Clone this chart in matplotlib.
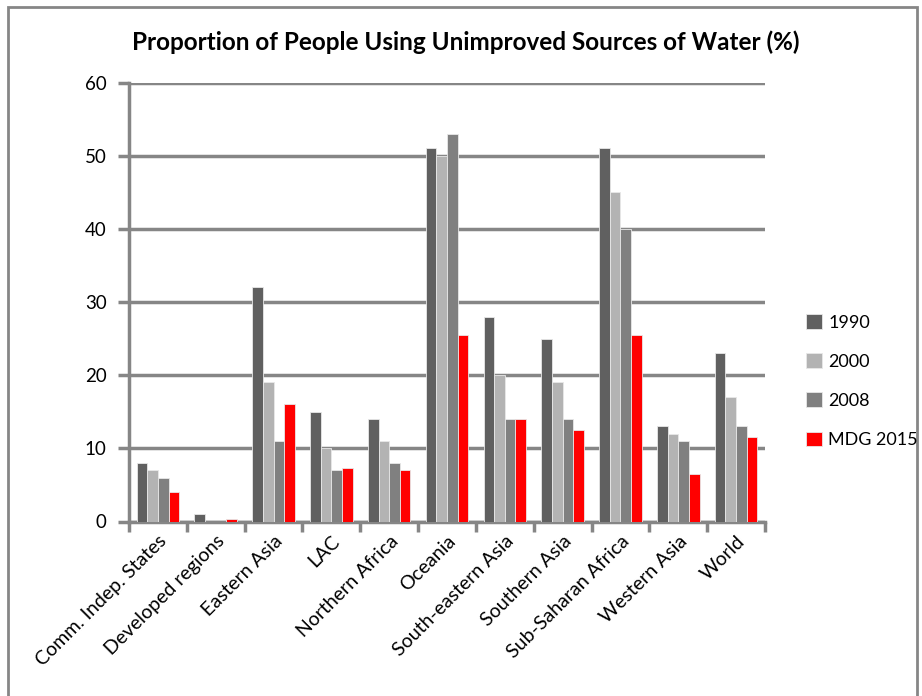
import matplotlib
matplotlib.use("Agg")
import matplotlib.pyplot as plt
import numpy as np
from matplotlib.patches import Rectangle

regions = ["Comm. Indep. States", "Developed regions", "Eastern Asia", "LAC",
           "Northern Africa", "Oceania", "South-eastern Asia", "Southern Asia",
           "Sub-Saharan Africa", "Western Asia", "World"]
series_names = ["1990", "2000", "2008", "MDG 2015"]
v1990 = [8, 1, 32, 15, 14, 51, 28, 25, 51, 13, 23]
v2000 = [7, 0, 19, 10, 11, 50, 20, 19, 45, 12, 17]
v2008 = [6, 0, 11, 7, 8, 53, 14, 14, 40, 11, 13]
mdg2015 = [4, 0.3, 16, 7.3, 7, 25.5, 14, 12.5, 25.5, 6.5, 11.5]
colors = ["#606060", "#b3b3b3", "#808080", "#ff0000"]

plt.rcParams['font.family'] = ['Lato', 'DejaVu Sans']

W, H = 922, 696
fig = plt.figure(figsize=(W / 100, H / 100), dpi=100)
ax = fig.add_axes([129 / W, 1 - 521.5 / H, (765 - 129) / W, (521.5 - 82.5) / H])

x = np.arange(len(regions))
bw = 0.184
data = [v1990, v2000, v2008, mdg2015]
for i, (vals, c, name) in enumerate(zip(data, colors, series_names)):
    ax.bar(x + (i - 1.5) * bw, vals, width=bw, color=c, edgecolor="#e8e8e8",
           linewidth=0.6, label=name, zorder=3)

ax.set_xlim(-0.5, len(regions) - 0.5)
ax.set_ylim(0, 60)
ax.set_yticks(np.arange(0, 61, 10))
ax.yaxis.grid(True, color="#868686", linewidth=2.5, zorder=0)
ax.set_axisbelow(True)
for s in ["top", "right"]:
    ax.spines[s].set_visible(False)
for s in ["left", "bottom"]:
    ax.spines[s].set_color("#868686")
    ax.spines[s].set_linewidth(2.5)

# category boundaries carry the tick marks; names sit under the centres
ax.set_xticks(np.arange(-0.5, len(regions), 1.0), minor=False)
ax.set_xticklabels([])
ax.set_xticks(x, minor=True)
ax.set_xticklabels(regions, minor=True, rotation=45, ha="right", rotation_mode="anchor",
                   fontsize=14)
ax.tick_params(axis="x", which="minor", length=0, pad=8)
ax.tick_params(axis="x", which="major", length=7, width=2.5, color="#868686")
ax.tick_params(axis="y", length=8, width=2.5, color="#868686", labelsize=13.5, pad=8)

fig.text(466 / W, 1 - 42 / H, "Proportion of People Using Unimproved Sources of Water (%)",
         ha="center", va="center", fontsize=17.5, fontweight="bold")

fig.legend(loc="upper left", bbox_to_anchor=(792 / W, 1 - 300 / H), frameon=False,
           fontsize=13, handlelength=0.85, handleheight=0.85, handletextpad=0.35,
           labelspacing=1.25, borderpad=0.3)

fig.patches.append(Rectangle((8 / W, -10 / H), 909 / W, (H + 10 - 7) / H,
                             transform=fig.transFigure, fill=False,
                             edgecolor="#868686", linewidth=2.0, clip_on=False))

fig.savefig("out.png", dpi=100, facecolor="white")
